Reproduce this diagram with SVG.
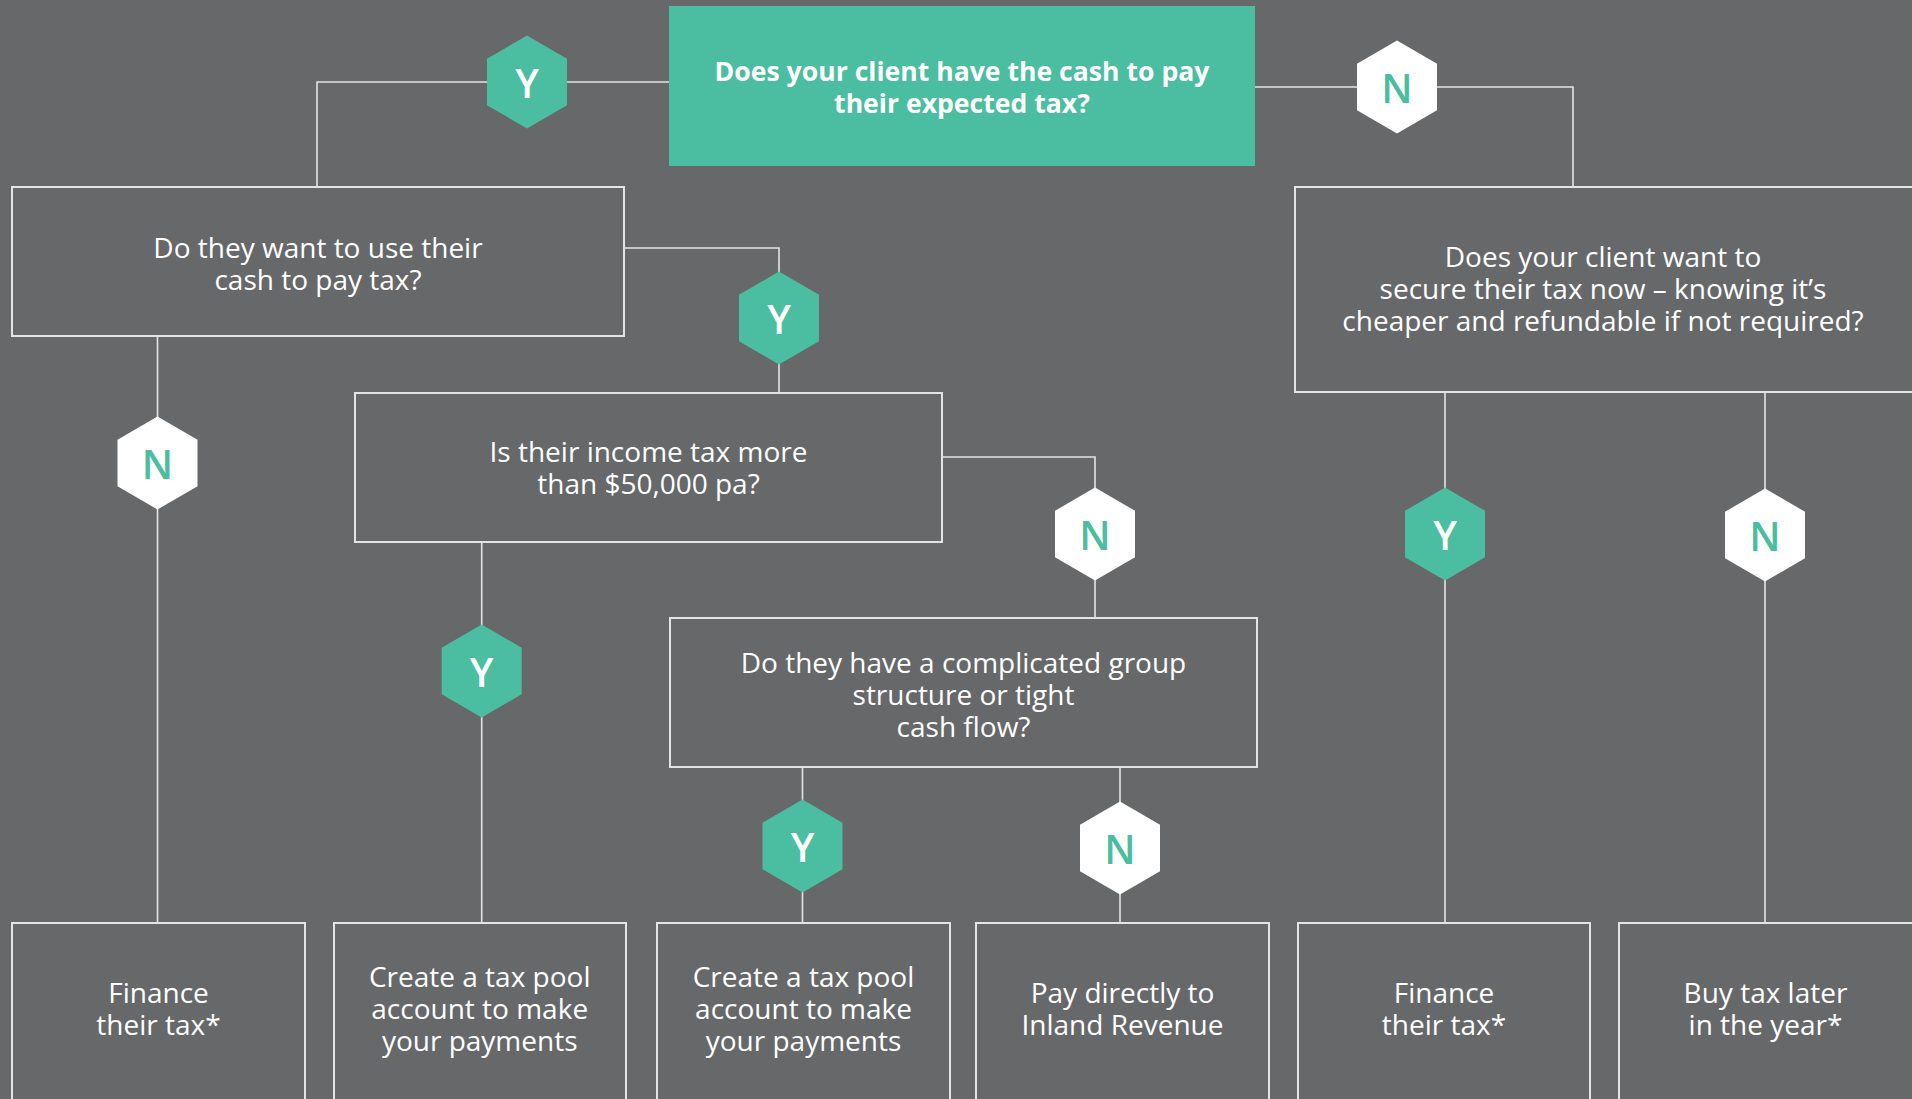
<svg xmlns="http://www.w3.org/2000/svg" xmlns:xlink="http://www.w3.org/1999/xlink" width="1912" height="1099" viewBox="0 0 1912 1099">
<style>
.bg{fill:#67686a}
.box{fill:none;stroke:#e4e4e4;stroke-width:2}
.start{fill:#4bbda0}
.conn{fill:none;stroke:#e4e4e4;stroke-width:1.6}
.t{font-family:"Open Sans","Noto Sans",sans-serif;font-size:28px;fill:#ffffff;text-anchor:middle}
.tb{font-family:"Open Sans","Noto Sans",sans-serif;font-size:26.6px;font-weight:700;fill:#ffffff;text-anchor:middle}
.hy{fill:#4bbda0}
.hn{fill:#ffffff}
.ly{font-family:"Open Sans","Noto Sans",sans-serif;font-size:40px;font-weight:600;fill:#ffffff;text-anchor:middle}
.ln{font-family:"Open Sans","Noto Sans",sans-serif;font-size:40px;font-weight:600;fill:#4bbda0;text-anchor:middle}
</style>
<defs>
<polygon id="hex" points="0,-46.5 40,-23.2 40,23.2 0,46.5 -40,23.2 -40,-23.2"/>
</defs>
<rect class="bg" x="0" y="0" width="1912" height="1099"/>
<g id="connectors">
<path class="conn" d="M669,82 H317 V187"/>
<path class="conn" d="M1255,87 H1573 V187"/>
<path class="conn" d="M624,248 H779 V393"/>
<path class="conn" d="M157.5,336 V923"/>
<path class="conn" d="M942,457 H1095 V618"/>
<path class="conn" d="M481.7,542 V923"/>
<path class="conn" d="M802.5,767 V923"/>
<path class="conn" d="M1120,767 V923"/>
<path class="conn" d="M1445,392 V923"/>
<path class="conn" d="M1765,392 V923"/>
</g>
<g id="q-cash">
<rect class="start" x="669" y="6" width="586" height="160"/>
<text class="tb" x="962" y="81">Does your client have the cash to pay</text>
<text class="tb" x="962" y="113">their expected tax?</text>
</g>
<g id="q-use-cash">
<rect class="box" x="12" y="187" width="612" height="149"/>
<text class="t" x="318" y="258">Do they want to use their</text>
<text class="t" x="318" y="290">cash to pay tax?</text>
</g>
<g id="q-secure">
<rect class="box" x="1295" y="187" width="640" height="205"/>
<text class="t" x="1603" y="267">Does your client want to</text>
<text class="t" x="1603" y="299">secure their tax now – knowing it’s</text>
<text class="t" x="1603" y="331">cheaper and refundable if not required?</text>
</g>
<g id="q-income">
<rect class="box" x="355" y="393" width="587" height="149"/>
<text class="t" x="648.5" y="462">Is their income tax more</text>
<text class="t" x="648.5" y="494">than $50,000 pa?</text>
</g>
<g id="q-group">
<rect class="box" x="670" y="618" width="587" height="149"/>
<text class="t" x="963.5" y="673">Do they have a complicated group</text>
<text class="t" x="963.5" y="705">structure or tight</text>
<text class="t" x="963.5" y="737">cash flow?</text>
</g>
<g id="r-finance-1">
<rect class="box" x="12" y="923" width="293" height="220"/>
<text class="t" x="158.5" y="1003">Finance</text>
<text class="t" x="158.5" y="1035">their tax*</text>
</g>
<g id="r-pool-1">
<rect class="box" x="334" y="923" width="292" height="220"/>
<text class="t" x="479.7" y="987">Create a tax pool</text>
<text class="t" x="479.7" y="1019">account to make</text>
<text class="t" x="479.7" y="1051">your payments</text>
</g>
<g id="r-pool-2">
<rect class="box" x="657" y="923" width="293" height="220"/>
<text class="t" x="803.5" y="987">Create a tax pool</text>
<text class="t" x="803.5" y="1019">account to make</text>
<text class="t" x="803.5" y="1051">your payments</text>
</g>
<g id="r-pay-direct">
<rect class="box" x="976" y="923" width="293" height="220"/>
<text class="t" x="1122.5" y="1003">Pay directly to</text>
<text class="t" x="1122.5" y="1035">Inland Revenue</text>
</g>
<g id="r-finance-2">
<rect class="box" x="1298" y="923" width="292" height="220"/>
<text class="t" x="1444" y="1003">Finance</text>
<text class="t" x="1444" y="1035">their tax*</text>
</g>
<g id="r-buy-later">
<rect class="box" x="1619" y="923" width="320" height="220"/>
<text class="t" x="1765.5" y="1003">Buy tax later</text>
<text class="t" x="1765.5" y="1035">in the year*</text>
</g>
<g id="hex-y1"><use xlink:href="#hex" href="#hex" class="hy" x="527" y="82"/><text class="ly" x="527" y="98">Y</text></g>
<g id="hex-n1"><use xlink:href="#hex" href="#hex" class="hn" x="1397" y="87"/><text class="ln" x="1397" y="103">N</text></g>
<g id="hex-y2"><use xlink:href="#hex" href="#hex" class="hy" x="779" y="318"/><text class="ly" x="779" y="334">Y</text></g>
<g id="hex-n2"><use xlink:href="#hex" href="#hex" class="hn" x="157.5" y="463"/><text class="ln" x="157.5" y="479">N</text></g>
<g id="hex-y3"><use xlink:href="#hex" href="#hex" class="hy" x="481.7" y="671"/><text class="ly" x="481.7" y="687">Y</text></g>
<g id="hex-n3"><use xlink:href="#hex" href="#hex" class="hn" x="1095" y="534"/><text class="ln" x="1095" y="550">N</text></g>
<g id="hex-y4"><use xlink:href="#hex" href="#hex" class="hy" x="1445" y="534"/><text class="ly" x="1445" y="550">Y</text></g>
<g id="hex-n4"><use xlink:href="#hex" href="#hex" class="hn" x="1765" y="535"/><text class="ln" x="1765" y="551">N</text></g>
<g id="hex-y5"><use xlink:href="#hex" href="#hex" class="hy" x="802.5" y="846"/><text class="ly" x="802.5" y="862">Y</text></g>
<g id="hex-n5"><use xlink:href="#hex" href="#hex" class="hn" x="1120" y="848"/><text class="ln" x="1120" y="864">N</text></g>
</svg>
